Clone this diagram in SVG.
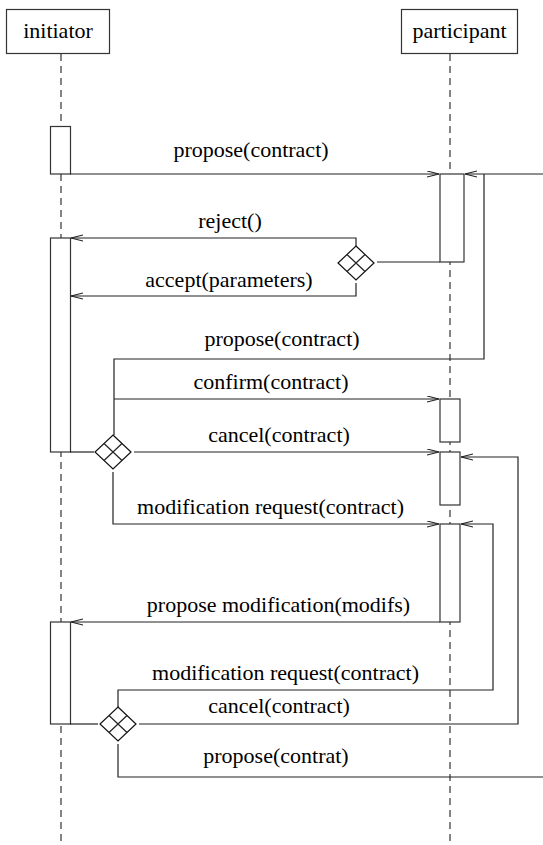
<svg xmlns="http://www.w3.org/2000/svg" width="543" height="845" viewBox="0 0 543 845">
<style>
text{font-family:"Liberation Serif","Times New Roman",serif;font-size:22px;fill:#000;text-anchor:middle}
.box{fill:#fff;stroke:#333;stroke-width:1.2}
.life{stroke:#333;stroke-width:1.2;stroke-dasharray:7 5;fill:none}
.act{fill:#fff;stroke:#333;stroke-width:1.2}
.c{fill:none;stroke:#222;stroke-width:1.2}
.ca{fill:none;stroke:#222;stroke-width:1.2;marker-end:url(#arr)}
.dia{fill:#fff;stroke:#111;stroke-width:1.2}
</style>
<defs>
<marker id="arr" markerWidth="14" markerHeight="8" refX="12" refY="3.5" orient="auto" markerUnits="userSpaceOnUse">
<path d="M0,0.5 L12,3.5 L0,6.5" fill="none" stroke="#222" stroke-width="1.1"/>
</marker>
</defs>
<g id="lifelines">
<line class="life" x1="61" y1="54" x2="61" y2="845"/>
<line class="life" x1="450" y1="54" x2="450" y2="845"/>
</g>
<g id="initiator"><rect class="box" x="6.5" y="9.5" width="103" height="44"/><text x="58" y="38">initiator</text></g>
<g id="participant"><rect class="box" x="401.5" y="9.5" width="116" height="44"/><text x="459.5" y="38">participant</text></g>
<g id="activations">
<rect class="act" x="50.5" y="126.5" width="20" height="47.5"/>
<rect class="act" x="440" y="174" width="24" height="88"/>
<rect class="act" x="50.5" y="238" width="20" height="214"/>
<rect class="act" x="440" y="399" width="20" height="43"/>
<rect class="act" x="440" y="452" width="20" height="53"/>
<rect class="act" x="440" y="524" width="20" height="98"/>
<rect class="act" x="50.5" y="622" width="20" height="102"/>
</g>
<g id="connectors">
<line class="ca" x1="70" y1="174" x2="439" y2="174"/>
<line class="ca" x1="543" y1="174" x2="465" y2="174"/>
<polyline class="c" points="484,174 484,359 114,359 114,435"/>
<line class="c" x1="377" y1="262" x2="440" y2="262"/>
<polyline class="ca" points="356,246 356,238 71,238"/>
<polyline class="ca" points="356,283 356,296 71,296"/>
<line class="ca" x1="114" y1="399" x2="439" y2="399"/>
<line class="c" x1="70" y1="452" x2="94" y2="452"/>
<line class="ca" x1="134" y1="452" x2="439" y2="452"/>
<polyline class="ca" points="139,724 518,724 518,457 461,457"/>
<polyline class="ca" points="113,472 113,524 439,524"/>
<polyline class="ca" points="118,707 118,690 493,690 493,524 461,524"/>
<line class="ca" x1="440" y1="622" x2="71" y2="622"/>
<line class="c" x1="70" y1="724" x2="98" y2="724"/>
<polyline class="c" points="118,744 118,777 543,777"/>
</g>
<g id="decision1">
<path class="dia" d="M356,246 L374,263 L356,280 L338,263 Z"/>
<path class="c" d="M347,254.5 L365,271.5 M365,254.5 L347,271.5"/>
</g>
<g id="decision2">
<path class="dia" d="M113,435 L131,452 L113,469 L95,452 Z"/>
<path class="c" d="M104,443.5 L122,460.5 M122,443.5 L104,460.5"/>
</g>
<g id="decision3">
<path class="dia" d="M118,707 L136,724 L118,741 L100,724 Z"/>
<path class="c" d="M109,715.5 L127,732.5 M127,715.5 L109,732.5"/>
</g>
<g id="labels">
<text x="251" y="157">propose(contract)</text>
<text x="230" y="228">reject()</text>
<text x="229" y="287">accept(parameters)</text>
<text x="282" y="346">propose(contract)</text>
<text x="271" y="389">confirm(contract)</text>
<text x="279" y="442">cancel(contract)</text>
<text x="270.5" y="514">modification request(contract)</text>
<text x="278.5" y="612">propose modification(modifs)</text>
<text x="285.5" y="680">modification request(contract)</text>
<text x="279" y="713">cancel(contract)</text>
<text x="276" y="763">propose(contrat)</text>
</g>
</svg>
